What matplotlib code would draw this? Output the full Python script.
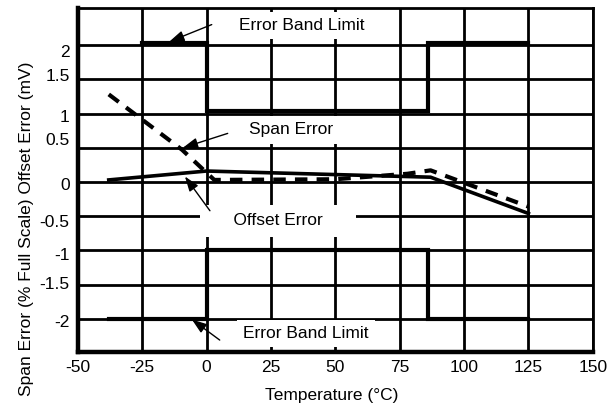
import numpy as np
import matplotlib
matplotlib.use("Agg")
import matplotlib.pyplot as plt

plt.rcParams['font.family'] = ['Liberation Sans', 'DejaVu Sans']

# error band limits (step outlines)
band_hi_x = [-25, 0, 0, 86, 86, 125]
band_hi_y = [2.03, 2.03, 1.03, 1.03, 2.03, 2.03]
band_lo_x = [-38, 0, 0, 86, 86, 125]
band_lo_y = [-2.0, -2.0, -1.0, -1.0, -2.0, -2.0]

# span error (solid)
span_x = [-38, 0, 87, 125]
span_y = [0.03, 0.16, 0.07, -0.46]

# offset error (dashed)
off_x = [-38, -9.5, 3, 50, 78, 87, 125]
off_y = [1.28, 0.47, 0.03, 0.04, 0.12, 0.17, -0.36]

xticks = [-50, -25, 0, 25, 50, 75, 100, 125, 150]
ygrid = [-2, -1.5, -1, -0.5, 0, 0.5, 1, 1.5, 2]
# labels in the original sit a bit off their gridlines
ylabel_pos = [-2.03, -1.48, -1.05, -0.57, -0.03, 0.63, 0.97, 1.57, 1.92]
ylabel_txt = ['-2', '-1.5', '-1', '-0.5', '0', '0.5', '1', '1.5', '2']

fig = plt.figure(figsize=(6.13, 4.08), dpi=100)
ax = fig.add_axes([0.127, 0.138, 0.840, 0.842])

for g in xticks:
    ax.axvline(g, color='black', lw=2, zorder=1)
for g in ygrid:
    ax.axhline(g, color='black', lw=2, zorder=1)

ax.plot(band_hi_x, band_hi_y, color='black', lw=3, zorder=4, solid_joinstyle='miter')
ax.plot(band_lo_x, band_lo_y, color='black', lw=3, zorder=4, solid_joinstyle='miter')
ax.plot(span_x, span_y, color='black', lw=2.6, zorder=4)
ax.plot(off_x, off_y, color='black', lw=3, dashes=(3, 2.2), zorder=4)

ax.set_xlim(-50, 150)
ax.set_ylim(-2.48, 2.54)
ax.set_xticks(xticks)
ax.set_xticklabels([str(v) for v in xticks])
ax.set_yticks(ylabel_pos)
ax.set_yticklabels(ylabel_txt)
ax.tick_params(length=0, labelsize=12.5, pad=6)

for s in ['left', 'bottom']:
    ax.spines[s].set_linewidth(3.2)
for s in ['top', 'right']:
    ax.spines[s].set_linewidth(2)

ax.set_xlabel('Temperature (°C)', fontsize=12.5)
ax.set_ylabel('Span Error (% Full Scale) Offset Error (mV)', fontsize=12.5)
ax.xaxis.set_label_coords(0.493, -0.106)
ax.yaxis.set_label_coords(-0.085, 0.357)

box = dict(boxstyle='square,pad=0.35', fc='white', ec='none')
arrow = dict(arrowstyle='-|>,head_length=0.9,head_width=0.32', color='black', lw=1, shrinkA=0, shrinkB=0)

ax.text(37, 2.29, 'Error Band Limit', ha='center', va='center', fontsize=12.5, bbox=box, zorder=3)
ax.annotate('', xy=(-14.5, 2.05), xytext=(2, 2.30), arrowprops=arrow, zorder=5)

ax.text(32.7, 0.76, 'Span Error', ha='center', va='center', fontsize=12.5, bbox=box, zorder=3)
ax.annotate('', xy=(-9.2, 0.50), xytext=(8.2, 0.71), arrowprops=arrow, zorder=5)

ax.text(27.7, -0.57, '     Offset Error     ', ha='center', va='center', fontsize=12.5,
        bbox=dict(boxstyle='square,pad=0.5', fc='white', ec='none'), zorder=3)
ax.annotate('', xy=(-8.4, 0.08), xytext=(1.3, -0.42), arrowprops=arrow, zorder=5)

ax.text(38.6, -2.21, 'Error Band Limit', ha='center', va='center', fontsize=12.5, bbox=box, zorder=3)
ax.annotate('', xy=(-5.7, -2.01), xytext=(5.1, -2.31), arrowprops=arrow, zorder=5)

fig.savefig('out.png', dpi=100)
